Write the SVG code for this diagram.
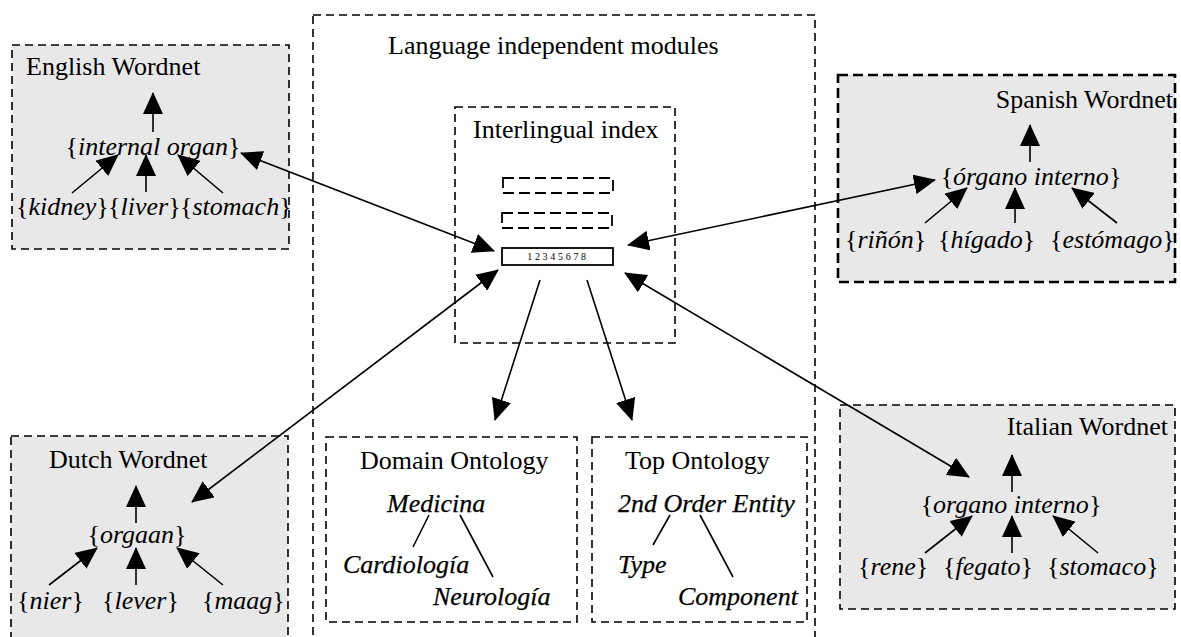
<svg xmlns="http://www.w3.org/2000/svg" width="1181" height="637" viewBox="0 0 1181 637" font-family="'Liberation Serif', 'Times New Roman', 'DejaVu Serif', serif">
<style>
text{font-family:'Liberation Serif','Times New Roman','DejaVu Serif',serif;fill:#000;font-size:26px}
.it{font-style:italic}
.ont{font-style:italic;stroke:#000;stroke-width:0.25}
.box{fill:#e8e8e8;stroke:#000;stroke-width:1.6;stroke-dasharray:8 5}
.boxh{fill:#e8e8e8;stroke:#000;stroke-width:2.6;stroke-dasharray:10 5}
.frame{fill:none;stroke:#000;stroke-width:1.6;stroke-dasharray:8 5}
.slot{fill:none;stroke:#000;stroke-width:1.8;stroke-dasharray:11 5}
.ln{stroke:#000;stroke-width:1.6;fill:none}
.ar{stroke:#000;stroke-width:1.6;fill:none;marker-end:url(#ah)}
.ar2{stroke:#000;stroke-width:1.6;fill:none;marker-end:url(#ah);marker-start:url(#ah)}
</style>
<defs>
<marker id="ah" viewBox="0 0 22 20" markerWidth="22" markerHeight="20" refX="21" refY="10" orient="auto-start-reverse" markerUnits="userSpaceOnUse">
<path d="M0,0 L22,10 L0,20 z" fill="#000"/>
</marker>
</defs>
<rect width="1181" height="637" fill="#fff"/>

<g id="language-independent-modules">
<rect class="frame" x="313" y="15" width="502" height="640"/>
<text x="388" y="54">Language independent modules</text>
</g>

<g id="interlingual-index">
<rect class="frame" x="455" y="107" width="220" height="236"/>
<text x="473" y="138">Interlingual index</text>
<rect class="slot" x="503" y="178" width="110" height="15"/>
<rect class="slot" x="502" y="213" width="110" height="15"/>
<rect x="502" y="248" width="111" height="17" fill="#fff" stroke="#000" stroke-width="1.8"/>
<text x="558" y="260" text-anchor="middle" style="font-size:10px;letter-spacing:2.7px">12345678</text>
</g>

<g id="english-wordnet">
<rect class="box" x="12" y="45" width="277" height="204"/>
<text x="26" y="75">English Wordnet</text>
<text x="153" y="155" text-anchor="middle">{<tspan class="it">internal organ</tspan>}</text>
<text x="16" y="215">{<tspan class="it">kidney</tspan>}</text>
<text x="108" y="215">{<tspan class="it">liver</tspan>}</text>
<text x="180" y="215">{<tspan class="it">stomach</tspan>}</text>
<line class="ar" x1="153" y1="132" x2="153" y2="93"/>
<line class="ar" x1="72" y1="193" x2="118" y2="155"/>
<line class="ar" x1="146" y1="192" x2="146" y2="155"/>
<line class="ar" x1="223" y1="193" x2="178" y2="155"/>
</g>

<g id="spanish-wordnet">
<rect class="boxh" x="838" y="75" width="337" height="207"/>
<text x="1173" y="108" text-anchor="end">Spanish Wordnet</text>
<text x="1031" y="185" text-anchor="middle">{<tspan class="it">órgano interno</tspan>}</text>
<text x="845" y="248">{<tspan class="it">riñón</tspan>}</text>
<text x="938" y="248">{<tspan class="it">hígado</tspan>}</text>
<text x="1050" y="248">{<tspan class="it">estómago</tspan>}</text>
<line class="ar" x1="1030" y1="162" x2="1030" y2="125"/>
<line class="ar" x1="925" y1="223" x2="967" y2="188"/>
<line class="ar" x1="1015" y1="223" x2="1015" y2="188"/>
<line class="ar" x1="1117" y1="223" x2="1072" y2="188"/>
</g>

<g id="dutch-wordnet">
<rect class="box" x="11" y="436" width="277" height="215"/>
<text x="49" y="468">Dutch Wordnet</text>
<text x="137" y="543" text-anchor="middle">{<tspan class="it">orgaan</tspan>}</text>
<text x="17" y="609">{<tspan class="it">nier</tspan>}</text>
<text x="102" y="609">{<tspan class="it">lever</tspan>}</text>
<text x="202" y="609">{<tspan class="it">maag</tspan>}</text>
<line class="ar" x1="136" y1="523" x2="136" y2="486"/>
<line class="ar" x1="49" y1="585" x2="97" y2="548"/>
<line class="ar" x1="136" y1="585" x2="136" y2="548"/>
<line class="ar" x1="223" y1="585" x2="177" y2="548"/>
</g>

<g id="italian-wordnet">
<rect class="box" x="840" y="405" width="335" height="204"/>
<text x="1168" y="435" text-anchor="end">Italian Wordnet</text>
<text x="1011" y="513" text-anchor="middle">{<tspan class="it">organo interno</tspan>}</text>
<text x="858" y="575">{<tspan class="it">rene</tspan>}</text>
<text x="943" y="575">{<tspan class="it">fegato</tspan>}</text>
<text x="1047" y="575">{<tspan class="it">stomaco</tspan>}</text>
<line class="ar" x1="1012" y1="492" x2="1012" y2="455"/>
<line class="ar" x1="925" y1="553" x2="972" y2="516"/>
<line class="ar" x1="1012" y1="553" x2="1012" y2="516"/>
<line class="ar" x1="1098" y1="553" x2="1053" y2="516"/>
</g>

<g id="domain-ontology">
<rect class="frame" x="326" y="437" width="251" height="185"/>
<text x="360" y="469">Domain Ontology</text>
<text class="ont" x="387" y="512">Medicina</text>
<text class="ont" x="343" y="573">Cardiología</text>
<text class="ont" x="433" y="605">Neurología</text>
<line class="ln" x1="429" y1="515" x2="413" y2="547"/>
<line class="ln" x1="460" y1="515" x2="493" y2="577"/>
</g>

<g id="top-ontology">
<rect class="frame" x="592" y="437" width="215" height="185"/>
<text x="625" y="469">Top Ontology</text>
<text class="ont" x="618" y="512">2nd Order Entity</text>
<text class="ont" x="618" y="573">Type</text>
<text class="ont" x="678" y="605">Component</text>
<line class="ln" x1="670" y1="515" x2="653" y2="545"/>
<line class="ln" x1="700" y1="515" x2="733" y2="577"/>
</g>

<g id="connectors">
<line class="ar2" x1="241" y1="153" x2="494" y2="251"/>
<line class="ar2" x1="935" y1="180" x2="628" y2="245"/>
<line class="ar2" x1="192" y1="502" x2="498" y2="270"/>
<line class="ar2" x1="969" y1="477" x2="625" y2="273"/>
<line class="ar" x1="540" y1="280" x2="495" y2="420"/>
<line class="ar" x1="587" y1="280" x2="632" y2="420"/>
</g>
</svg>
